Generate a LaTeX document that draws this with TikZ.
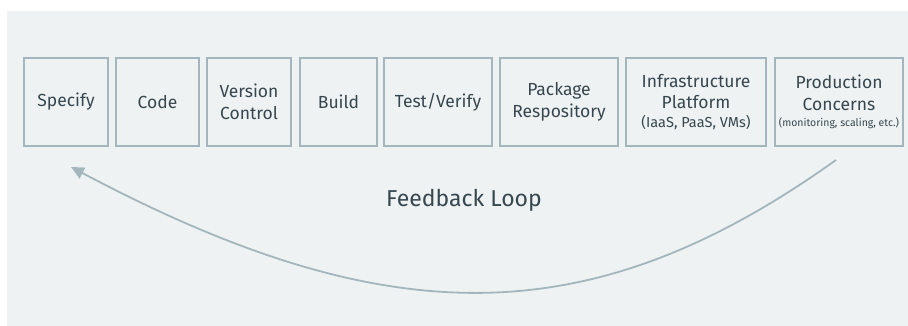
\documentclass[tikz,border=0pt]{standalone}
\usepackage{fontspec}
\setmainfont{Fira Sans}
\usetikzlibrary{arrows.meta}
\definecolor{panelbg}{HTML}{EEF2F3}
\definecolor{edgegray}{HTML}{A3B6BE}
\definecolor{inkgray}{HTML}{37474F}
\tikzset{
  stage/.style={draw=edgegray, line width=1.6pt, fill=panelbg, text=inkgray,
    minimum height=88.4pt, inner sep=0pt, align=center,
    font=\fontsize{17.5}{21.5}\selectfont},
  loop/.style={draw=edgegray, line width=1.8pt,
    -{Triangle[length=13pt,width=12pt]}}
}
\begin{document}
\begin{tikzpicture}[x=1pt,y=1pt]
  \useasboundingbox (0,0) rectangle (908,-326);
  % light panel behind everything
  \fill[panelbg] (7,-11) rectangle (908,-326);

  % pipeline stages, left to right
  \node[stage, minimum width=84.4pt] (spec)  at (66,-102)  {Specify};
  \node[stage, minimum width=83.4pt] (code)  at (157.5,-102) {Code};
  \node[stage, minimum width=84.4pt] (vcs)   at (249,-102) {Version\\Control};
  \node[stage, minimum width=77.4pt] (build) at (338.5,-102) {Build};
  \node[stage, minimum width=108.4pt] (test) at (438,-102) {Test/Verify};
  \node[stage, minimum width=118.4pt] (pkg)  at (559,-102) {Package\\Respository};
  \node[stage, minimum width=140.4pt] (infra) at (696,-102)
    {Infrastructure\\Platform\\[-2.5pt]{\fontsize{14.5}{17}\selectfont (IaaS, PaaS, VMs)}};
  \node[stage, minimum width=128.4pt] (prod) at (839,-102)
    {Production\\Concerns\\[-5.5pt]{\fontsize{10.5}{12}\selectfont (monitoring, scaling, etc.)}};

  % caption of the return path
  \node[text=inkgray, font=\fontsize{23}{27}\selectfont] (fb) at (464,-200) {Feedback Loop};

  % feedback arrow from the last stage back to the first
  \draw[loop] ([shift={(-3,-13)}]prod.south)
     .. controls (591,-335) and (388,-335) .. ([shift={(5,-20)}]spec.south);
\end{tikzpicture}
\end{document}
